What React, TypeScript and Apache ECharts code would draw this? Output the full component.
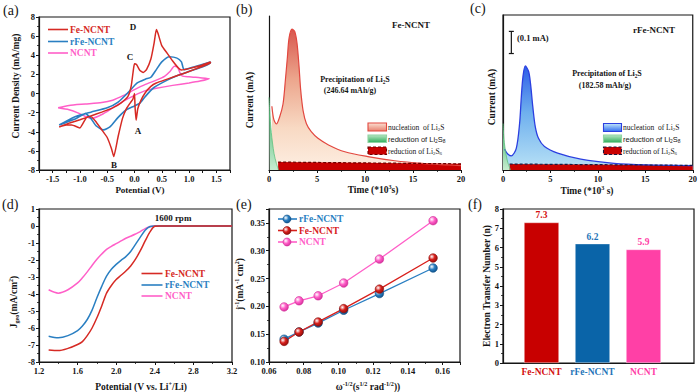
import React, { useEffect, useRef } from "react";
import * as echarts from "echarts";

const SERIF = "'Liberation Serif', 'Times New Roman', serif";
const SANS = "'Liberation Sans', Arial, sans-serif";
const RED = "#d62a24";
const BLUE = "#2a7fc2";
const PINK = "#ff5fc8";
const INK = "#151515";

// (a) cyclic voltammetry loops: potential (V) / current density (mA/mg)
const feCvV = [-1.38, -1.2, -1.0, -0.8, -0.6, -0.4, -0.25, -0.12, -0.06, -0.02, 0.0, 0.04, 0.1, 0.16, 0.22, 0.3, 0.36, 0.4, 0.43, 0.5, 0.6, 0.7, 0.8, 0.86, 1.0, 1.2, 1.39,
  1.39, 1.2, 1.0, 0.8, 0.6, 0.4, 0.3, 0.2, 0.12, 0.06, 0.03, 0.01, 0.0, -0.03, -0.08, -0.15, -0.22, -0.3, -0.38, -0.42, -0.5, -0.6, -0.7, -0.8, -0.88, -1.0, -1.05, -1.15, -1.25, -1.38];
const feCvI = [-3.5, -3.1, -2.75, -2.35, -1.95, -1.5, -1.0, -0.3, 0.8, 2.5, 3.1, 3.0, 2.4, 2.2, 2.5, 3.6, 5.3, 6.7, 6.3, 5.0, 4.2, 3.4, 2.7, 2.45, 2.6, 2.9, 3.3,
  3.2, 2.75, 2.3, 1.9, 1.5, 1.1, 0.75, 0.1, -0.7, -1.6, -2.8, -1.4, 0.0, -0.6, -1.0, -1.6, -2.6, -4.5, -6.6, -5.8, -4.6, -3.8, -3.0, -2.4, -2.5, -3.6, -3.5, -3.3, -3.3, -3.5];
const rfeCvV = [-1.38, -1.1, -0.8, -0.5, -0.3, -0.1, 0.05, 0.2, 0.3, 0.4, 0.5, 0.64, 0.78, 0.86, 0.91, 1.1, 1.39,
  1.39, 1.1, 0.8, 0.6, 0.35, 0.2, 0.1, 0.0, -0.15, -0.3, -0.45, -0.57, -0.7, -0.8, -0.9, -1.1, -1.38];
const rfeCvI = [-3.3, -2.45, -1.95, -1.5, -0.9, 0.2, 1.1, 1.5, 1.7, 2.5, 3.3, 3.85, 3.7, 3.3, 2.5, 2.8, 3.3,
  3.2, 2.5, 1.9, 1.4, 0.6, -0.3, -1.0, -1.3, -1.7, -2.5, -3.5, -3.8, -3.4, -2.6, -2.1, -2.7, -3.3];
const ncntCvV = [-1.4, -1.2, -0.9, -0.6, -0.4, -0.2, 0.0, 0.2, 0.4, 0.55, 0.65, 0.73, 0.79, 0.83, 0.87, 1.0, 1.2, 1.37,
  1.37, 1.2, 1.0, 0.7, 0.4, 0.2, 0.0, -0.2, -0.4, -0.6, -0.78, -0.9, -1.05, -1.2, -1.4];
const ncntCvI = [-1.5, -1.25, -1.1, -0.95, -0.7, -0.2, 0.4, 0.95, 1.4, 1.8, 2.3, 2.85, 2.75, 2.2, 1.85, 1.75, 1.65, 1.55,
  1.5, 1.3, 1.1, 0.85, 0.55, 0.3, -0.2, -0.8, -1.5, -2.2, -2.6, -2.4, -2.0, -1.7, -1.5];

// (b) Fe-NCNT potentiostatic discharge: time (10^3 s) / current (mA)
const bNucTime = [0.3, 0.5, 0.77, 1.1, 1.46, 1.71, 1.92, 2.09, 2.4, 2.68, 2.92, 3.13, 3.3, 3.55, 3.9, 4.4, 5.1, 6.2, 7.9, 10.3, 13.1, 15.9, 18.7, 20];
const bNucCur = [0.29, 0.23, 0.209, 0.24, 0.3, 0.41, 0.515, 0.6, 0.64, 0.63, 0.576, 0.47, 0.364, 0.27, 0.21, 0.174, 0.144, 0.114, 0.083, 0.061, 0.042, 0.03, 0.023, 0.02];
const bS8Time = [0, 0.07, 0.24, 0.52, 0.77, 1.0];
const bS8Cur = [0.33, 0.27, 0.17, 0.076, 0.03, 0];
const bS6Time = [0.95, 20];
const bS6Cur = [0.036, 0.028];

// (c) rFe-NCNT potentiostatic discharge
const cNucTime = [0.18, 0.5, 0.88, 1.4, 1.75, 1.93, 2.1, 2.35, 2.7, 2.9, 3.14, 3.4, 3.74, 4.37, 5.76, 8.2, 11.7, 15.2, 20];
const cNucCur = [0.094, 0.072, 0.064, 0.098, 0.21, 0.33, 0.42, 0.47, 0.445, 0.39, 0.286, 0.196, 0.143, 0.106, 0.076, 0.049, 0.03, 0.023, 0.02];
const cS8Time = [0, 0.1, 0.3, 0.5, 0.8];
const cS8Cur = [0.21, 0.14, 0.075, 0.035, 0];
const cS6Time = [0.7, 20];
const cS6Cur = [0.027, 0.021];
const scaleBarTime = [0.88, 0.88];
const scaleBarCur = [0.626, 0.526];

// (d) LSV at 1600 rpm: potential (V vs Li+/Li) / J (mA/cm2)
const lsvPotential = [1.3, 1.4, 1.5, 1.6, 1.65, 1.7, 1.75, 1.8, 1.85, 1.9, 1.95, 2.0, 2.05, 2.1, 2.15, 2.2, 2.25, 2.3, 2.35, 2.4, 2.45, 2.6, 2.8, 3.0, 3.2];
const lsvFe = [-7.29, -7.33, -7.2, -6.97, -6.8, -6.45, -6.0, -5.4, -4.7, -3.95, -3.5, -3.15, -2.9, -2.65, -2.35, -1.95, -1.45, -0.88, -0.35, -0.02, 0, 0, 0, 0, 0];
const lsvRFe = [-6.48, -6.58, -6.45, -6.15, -5.88, -5.5, -4.95, -4.22, -3.55, -2.95, -2.55, -2.26, -2.02, -1.8, -1.5, -1.08, -0.65, -0.25, -0.03, 0, 0, 0, 0, 0, 0];
const lsvN = [-3.75, -3.95, -3.75, -3.35, -3.05, -2.7, -2.32, -1.96, -1.65, -1.38, -1.2, -1.04, -0.88, -0.72, -0.6, -0.47, -0.33, -0.15, -0.04, 0, 0, 0, 0, 0, 0];

// (e) Koutecky-Levich: omega^-1/2 / j^-1
const klOmega = [0.0687, 0.0773, 0.0883, 0.103, 0.1236, 0.1545];
const klRFe = [0.141, 0.154, 0.17, 0.193, 0.223, 0.269];
const klFe = [0.137, 0.154, 0.172, 0.196, 0.231, 0.287];
const klN = [0.199, 0.21, 0.219, 0.242, 0.285, 0.354];

// (f) electron transfer number
const nCats = ["Fe-NCNT", "rFe-NCNT", "NCNT"];
const nValues = [7.3, 6.2, 5.9];
const barColors = ["#c80000", "#0a64a8", "#ff40a6"];
const barLabelColors = ["#d41010", "#1f74b8", "#ff40a6"];

const zip = (xs: number[], ys: number[]) => xs.map((x, i) => [x, ys[i]]);

function vAxis(gi: number, min: number, max: number, interval: number | undefined, o: any = {}) {
  return {
    type: "value",
    gridIndex: gi,
    min,
    max,
    interval,
    position: o.position,
    axisLine: { show: true, onZero: false, lineStyle: { color: INK, width: 1.2 } },
    axisTick: { show: o.tick !== false, inside: false, length: 3, lineStyle: { color: INK, width: 1 } },
    minorTick: { show: !!o.minor, splitNumber: o.minor || 2, length: 2, lineStyle: { color: INK, width: 0.8 } },
    splitLine: { show: false },
    minorSplitLine: { show: false },
    axisLabel: {
      show: o.label !== false,
      fontFamily: SERIF,
      fontWeight: "bold",
      fontSize: 8.5,
      color: INK,
      margin: 4,
      formatter: o.fmt,
      showMaxLabel: o.showMax,
    },
  };
}

const richSS = (size: number, color: string, weight = "bold", family = SERIF) => ({
  sub: { fontSize: size * 0.65, fontFamily: family, fontWeight: weight, fill: color, color, verticalAlign: "bottom", lineHeight: size * 0.75 },
  sup: { fontSize: size * 0.65, fontFamily: family, fontWeight: weight, fill: color, color, verticalAlign: "top", lineHeight: size * 0.75 },
});

function txt(x: number, y: number, text: string, o: any = {}) {
  const size = o.size || 9.5;
  const color = o.color || INK;
  const weight = o.weight || "bold";
  const family = o.family || SERIF;
  return {
    type: "text",
    x,
    y,
    rotation: o.rot || 0,
    silent: true,
    z: 100,
    style: {
      text,
      fontFamily: family,
      fontWeight: weight,
      fontSize: size,
      fill: color,
      align: o.align || "center",
      verticalAlign: "middle",
      lineHeight: size * 1.3,
      rich: richSS(size, color, weight, family),
    },
  };
}

function grid(left: number, top: number, width: number, height: number, border = true) {
  return { left, top, width, height, show: border, borderColor: INK, borderWidth: 1.2, backgroundColor: "rgba(0,0,0,0)", containLabel: false };
}

const lin = (stops: [number, string][]) => ({
  type: "linear", x: 0, y: 0, x2: 0, y2: 1, global: false,
  colorStops: stops.map(([offset, color]) => ({ offset, color })),
});

function marker(c: string, dark: string) {
  return {
    type: "radial", x: 0.35, y: 0.35, r: 0.75, global: false,
    colorStops: [
      { offset: 0, color: "#ffffff" },
      { offset: 0.45, color: c },
      { offset: 1, color: dark },
    ],
  };
}

function buildOption() {
  const grids = [
    grid(39, 17, 191, 153), // a
    grid(269, 16, 192, 154, false), // b
    grid(503, 15, 191, 155), // c
    grid(39, 209, 193, 153), // d
    grid(269, 209, 191, 153), // e
    grid(503, 209, 191, 154), // f frame
    grid(516, 209, 153, 154, false), // f bars
  ];

  const xAxis: any[] = [
    vAxis(0, -1.75, 1.75, 0.25, { fmt: (v: number) => (Math.abs(v * 2 - Math.round(v * 2)) < 1e-6 ? v.toFixed(1) : "") }),
    vAxis(1, 0, 20, 5, { minor: 2 }),
    vAxis(2, 0, 20, 5, { minor: 2 }),
    vAxis(3, 1.2, 3.2, 0.4, { minor: 2, fmt: (v: number) => v.toFixed(1) }),
    vAxis(4, 0.06, 0.17, 0.02, { minor: 2, fmt: (v: number) => v.toFixed(2), showMax: false }),
    vAxis(5, 0, 1, 1, { tick: false, label: false }),
    {
      type: "category",
      gridIndex: 6,
      data: nCats,
      axisLine: { show: false },
      axisTick: { show: false },
      axisLabel: {
        interval: 0,
        hideOverlap: false,
        margin: 4,
        formatter: (v: string, i: number) => `{c${i}|${v}}`,
        rich: {
          c0: { color: barLabelColors[0], fontFamily: SERIF, fontWeight: "bold", fontSize: 9.5 },
          c1: { color: barLabelColors[1], fontFamily: SERIF, fontWeight: "bold", fontSize: 9.5 },
          c2: { color: barLabelColors[2], fontFamily: SERIF, fontWeight: "bold", fontSize: 9.5 },
        },
      },
    },
  ];

  const yAxis: any[] = [
    vAxis(0, -8, 8, 2, { minor: 2 }),
    vAxis(1, 0, 0.7, 0.1, { tick: false, label: false }),
    vAxis(2, 0, 0.7, 0.1, { tick: false, label: false }),
    vAxis(3, -8, 1, 1, { minor: 2 }),
    vAxis(4, 0.1, 0.375, 0.05, { minor: 2, fmt: (v: number) => v.toFixed(2), showMax: false }),
    vAxis(5, 0, 8, 1, { minor: 2 }),
    { type: "value", gridIndex: 6, min: 0, max: 8, show: false },
  ];

  const lineS = (xi: number, data: number[][], color: string, width = 1.5, smooth: any = 0.2, extra: any = {}) => ({
    type: "line",
    xAxisIndex: xi,
    yAxisIndex: xi,
    data,
    showSymbol: false,
    symbol: "none",
    smooth,
    lineStyle: { color, width },
    ...extra,
  });

  const series: any[] = [
    // (a)
    lineS(0, zip(ncntCvV, ncntCvI), PINK, 1.5, 0.2),
    lineS(0, zip(rfeCvV, rfeCvI), BLUE, 1.6, 0.2),
    lineS(0, zip(feCvV, feCvI), RED, 1.5, 0.15),
    // (b)
    lineS(1, zip(bNucTime, bNucCur), "#e2473f", 1.2, 0.3, {
      areaStyle: { color: lin([[0, "#d8574e"], [0.35, "#eca58c"], [0.7, "#f8d9c3"], [1, "#fdeee2"]]), opacity: 1 },
    }),
    lineS(1, zip(bS8Time, bS8Cur), "#5fc17f", 0.8, 0.3, {
      areaStyle: { color: lin([[0, "#34b063"], [1, "#c7ecd0"]]), opacity: 1 },
    }),
    lineS(1, zip(bS6Time, bS6Cur), "#6e0000", 1.2, false, {
      lineStyle: { color: "#6e0000", width: 1.2, type: [3, 2] },
      areaStyle: { color: "#c80000", opacity: 1 },
    }),
    // (c)
    lineS(2, zip(cNucTime, cNucCur), "#2b3fe0", 1.3, 0.3, {
      areaStyle: { color: lin([[0, "#2d5de8"], [0.45, "#6fb0ee"], [1, "#b9e2f6"]]), opacity: 1 },
    }),
    lineS(2, zip(cS8Time, cS8Cur), "#5fc17f", 0.8, 0.3, {
      areaStyle: { color: lin([[0, "#34b063"], [1, "#c7ecd0"]]), opacity: 1 },
    }),
    lineS(2, zip(cS6Time, cS6Cur), "#1a1a40", 1.2, false, {
      lineStyle: { color: "#1a1a40", width: 1.2, type: [3, 2] },
      areaStyle: { color: "#c80000", opacity: 1 },
    }),
    {
      type: "line",
      xAxisIndex: 2,
      yAxisIndex: 2,
      data: zip(scaleBarTime, scaleBarCur),
      symbol: "rect",
      symbolSize: [5, 1.2],
      showSymbol: true,
      itemStyle: { color: INK },
      lineStyle: { color: INK, width: 1.2 },
    },
    // (d)
    lineS(3, zip(lsvPotential, lsvN), PINK, 1.5, 0.3),
    lineS(3, zip(lsvPotential, lsvRFe), BLUE, 1.5, 0.3),
    lineS(3, zip(lsvPotential, lsvFe), RED, 1.5, 0.3),
  ];

  const klSeries = [
    { ys: klRFe, c: BLUE, dark: "#0d4f86" },
    { ys: klFe, c: "#d8201c", dark: "#8a0b08" },
    { ys: klN, c: PINK, dark: "#d02a96" },
  ];
  klSeries.forEach((k) => {
    series.push({
      type: "line",
      xAxisIndex: 4,
      yAxisIndex: 4,
      data: zip(klOmega, k.ys),
      symbol: "circle",
      symbolSize: 8.5,
      showSymbol: true,
      lineStyle: { color: k.c, width: 1.3 },
      itemStyle: { color: marker(k.c, k.dark), borderColor: k.dark, borderWidth: 0.6 },
    });
  });

  series.push({
    type: "bar",
    xAxisIndex: 6,
    yAxisIndex: 6,
    barWidth: 35,
    data: nValues.map((v, i) => ({
      value: v,
      itemStyle: { color: barColors[i], borderColor: "rgba(255,255,255,0.6)", borderWidth: 0.6 },
      label: { color: barLabelColors[i] },
    })),
    label: {
      show: true,
      position: "top",
      distance: 2,
      fontFamily: SERIF,
      fontWeight: "bold",
      fontSize: 9.5,
      formatter: (p: any) => Number(p.value).toFixed(1),
    },
  });

  const legLine = (x1: number, x2: number, y: number, color: string) => ({
    type: "line",
    silent: true,
    z: 100,
    shape: { x1, y1: y, x2, y2: y },
    style: { stroke: color, lineWidth: 1.6 },
  });

  const swatch = (x: number, y: number, w: number, h: number, fill: any, stroke: string, dash?: number[]) => ({
    type: "rect",
    silent: true,
    z: 100,
    shape: { x, y, width: w, height: h },
    style: { fill, stroke, lineWidth: 1.1, lineDash: dash },
  });

  const graphic: any[] = [
    // panel letters
    txt(3, 10, "(a)", { size: 14, weight: "normal", align: "left" }),
    txt(236, 9, "(b)", { size: 14, weight: "normal", align: "left" }),
    txt(470, 8, "(c)", { size: 14, weight: "normal", align: "left" }),
    txt(2, 204, "(d)", { size: 14, weight: "normal", align: "left" }),
    txt(236, 204, "(e)", { size: 14, weight: "normal", align: "left" }),
    txt(468, 204, "(f)", { size: 14, weight: "normal", align: "left" }),

    // (a) titles & legend
    txt(16, 86, "Current Density (mA/mg)", { rot: Math.PI / 2, size: 9.5 }),
    txt(140, 190, "Potential (V)", { size: 9 }),
    legLine(48, 68, 29.5, RED),
    legLine(48, 68, 41.5, BLUE),
    legLine(48, 68, 53, PINK),
    txt(70, 29.5, "Fe-NCNT", { align: "left", color: RED, size: 9.5 }),
    txt(70, 41.5, "rFe-NCNT", { align: "left", color: BLUE, size: 9.5 }),
    txt(70, 53, "NCNT", { align: "left", color: PINK, size: 9.5 }),
    txt(133, 27, "D", { size: 9 }),
    txt(130, 57, "C", { size: 9 }),
    txt(138, 131, "A", { size: 9 }),
    txt(114, 165, "B", { size: 9 }),

    // (b)
    txt(250, 100, "Current (mA)", { rot: Math.PI / 2, size: 9.5 }),
    txt(373, 190, "Time (*10{sup|3}s)", { size: 9.5 }),
    txt(411, 25, "Fe-NCNT", { size: 9 }),
    txt(355, 79, "Precipitation of Li{sub|2}S", { size: 8 }),
    txt(350, 90, "(246.64 mAh/g)", { size: 8 }),
    swatch(368, 123, 18.5, 8, lin([[0, "#fbe0d2"], [1, "#e8806f"]]), "#e2473f"),
    swatch(368, 135, 18.5, 7.5, lin([[0, "#b8e6c3"], [1, "#2fae5c"]]), "#8fd4a3"),
    swatch(368, 147, 18.5, 7.5, "#c80000", "#6e0000", [3, 2]),
    txt(388, 127, "nucleation  of Li{sub|2}S", { align: "left", size: 7.5, weight: "normal" }),
    txt(388, 139, "reduction of Li{sub|2}S{sub|8}", { align: "left", size: 7.5, weight: "normal", family: SANS }),
    txt(388, 151, "reduction of Li{sub|2}S{sub|6}", { align: "left", size: 7.5, weight: "normal" }),

    // (c)
    txt(491.5, 97, "Current (mA)", { rot: Math.PI / 2, size: 9.5 }),
    txt(587, 191, "Time (*10{sup|3} s)", { size: 9.5 }),
    txt(654, 30, "rFe-NCNT", { size: 9 }),
    txt(517, 37.5, "(0.1 mA)", { align: "left", size: 8.5 }),
    txt(607, 73, "Precipitation of Li{sub|2}S", { size: 8 }),
    txt(605, 85, "(182.58 mAh/g)", { size: 8 }),
    swatch(603.5, 123.5, 18, 8, lin([[0, "#c2e6fa"], [1, "#2f6cf0"]]), "#2b3fe0"),
    swatch(603.5, 135, 18, 7.5, lin([[0, "#b8e6c3"], [1, "#2fae5c"]]), "#8fd4a3"),
    swatch(603.5, 147, 18, 7.5, "#c80000", "#1a1a40", [3, 2]),
    txt(623, 127.5, "nucleation  of Li{sub|2}S", { align: "left", size: 7.5, weight: "normal" }),
    txt(623, 139, "reduction of Li{sub|2}S{sub|8}", { align: "left", size: 7.5, weight: "normal", family: SANS }),
    txt(623, 151, "reduction of Li{sub|2}S{sub|6}", { align: "left", size: 7.5, weight: "normal" }),

    // (d)
    txt(14, 302, "J{sub|geo}(mA/cm{sup|2})", { rot: Math.PI / 2, size: 9.5 }),
    txt(141, 387, "Potential (V vs. Li{sup|+}/Li)", { size: 9.5 }),
    txt(173, 218, "1600 rpm", { size: 9 }),
    legLine(141.5, 162.5, 273.5, RED),
    legLine(141.5, 162.5, 285, BLUE),
    legLine(141.5, 162.5, 296, PINK),
    txt(165, 273.5, "Fe-NCNT", { align: "left", color: RED, size: 9.5 }),
    txt(165, 285, "rFe-NCNT", { align: "left", color: BLUE, size: 9.5 }),
    txt(165, 296, "NCNT", { align: "left", color: PINK, size: 9.5 }),

    // (e)
    txt(240, 284, "j{sup|-1}(mA{sup|-1} cm{sup|2})", { rot: Math.PI / 2, size: 9.5 }),
    txt(368, 387, "ω{sup|-1/2}(s{sup|1/2} rad{sup|-1/2}))", { size: 9.5 }),
    legLine(278, 297, 219, BLUE),
    legLine(278, 297, 230.5, "#d8201c"),
    legLine(278, 297, 242, PINK),
    { type: "circle", silent: true, z: 101, shape: { cx: 287, cy: 219, r: 4 }, style: { fill: marker(BLUE, "#0d4f86"), stroke: "#0d4f86", lineWidth: 0.6 } },
    { type: "circle", silent: true, z: 101, shape: { cx: 287, cy: 230.5, r: 4 }, style: { fill: marker("#d8201c", "#8a0b08"), stroke: "#8a0b08", lineWidth: 0.6 } },
    { type: "circle", silent: true, z: 101, shape: { cx: 287, cy: 242, r: 4 }, style: { fill: marker(PINK, "#d02a96"), stroke: "#d02a96", lineWidth: 0.6 } },
    txt(299, 219, "rFe-NCNT", { align: "left", color: BLUE, size: 9.5 }),
    txt(299, 230.5, "Fe-NCNT", { align: "left", color: "#d8201c", size: 9.5 }),
    txt(299, 242, "NCNT", { align: "left", color: PINK, size: 9.5 }),

    // (f)
    txt(487, 286, "Electron Transfer Number (n)", { rot: Math.PI / 2, size: 9.5 }),
  ];

  return {
    animation: false,
    backgroundColor: "#ffffff",
    grid: grids,
    xAxis,
    yAxis,
    series,
    graphic,
  };
}

export default function App() {
  const ref = useRef<HTMLDivElement | null>(null);
  useEffect(() => {
    if (!ref.current) return;
    const chart = echarts.init(ref.current, null, { renderer: "svg" });
    chart.setOption(buildOption() as any);
    return () => chart.dispose();
  }, []);
  return (
    <div
      ref={ref}
      style={{ position: "absolute", left: 0, top: 0, width: 700, height: 392, background: "#fff" }}
    />
  );
}
